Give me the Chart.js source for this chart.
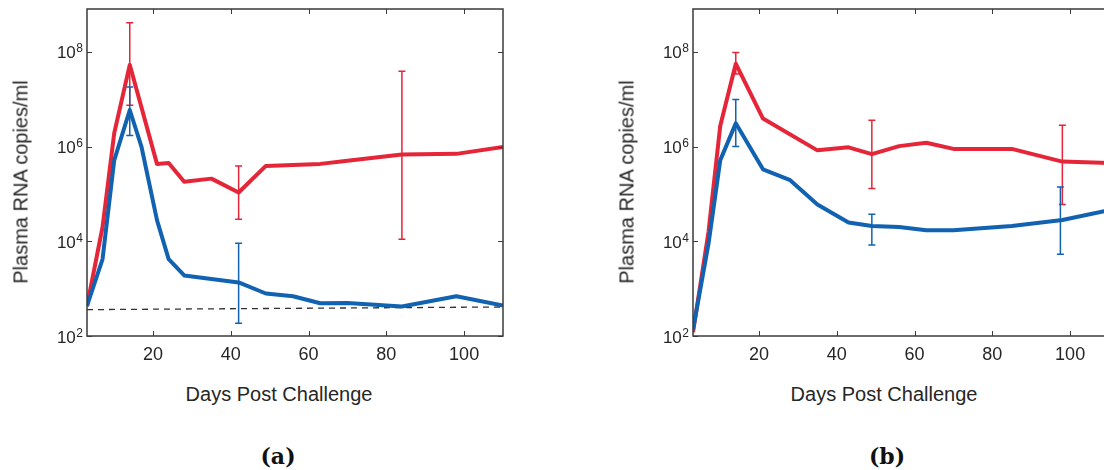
<!DOCTYPE html>
<html>
<head>
<meta charset="utf-8">
<script src="https://cdn.jsdelivr.net/npm/chart.js@4.4.1/dist/chart.umd.min.js"></script>
<style>
  html, body { margin: 0; padding: 0; background: #fff; overflow: hidden; width: 1104px; height: 470px; }
  .panel { position: absolute; top: 0; width: 520px; height: 360px; }
  .lbl { position: absolute; font-family: "Liberation Sans", Arial, sans-serif; font-size: 20px; color: #262626; white-space: nowrap; }
  .ylab { transform: translate(-50%, -50%) rotate(-90deg); }
  .xlab { transform: translate(-50%, -50%); }
  .cap { position: absolute; font-family: "DejaVu Serif", serif; font-weight: bold; font-size: 22px; color: #111; transform: translate(-50%, -50%); }
</style>
</head>
<body>
<div class="panel" style="left:0"><canvas id="chartA" width="520" height="360"></canvas></div>
<div class="panel" style="left:606px"><canvas id="chartB" width="520" height="360"></canvas></div>

<div class="lbl ylab" style="left:21px;top:182px">Plasma RNA copies/ml</div>
<div class="lbl xlab" style="left:279px;top:394px">Days Post Challenge</div>
<div class="cap" style="left:278px;top:456px">(a)</div>

<div class="lbl ylab" style="left:627px;top:182px">Plasma RNA copies/ml</div>
<div class="lbl xlab" style="left:884px;top:394px">Days Post Challenge</div>
<div class="cap" style="left:887px;top:456px">(b)</div>

<script>
// axis ticks
const xTicks = [20, 40, 60, 80, 100];
const yTicks = [1e2, 1e4, 1e6, 1e8];

// panel (a)
const redDaysA = [3, 7, 10, 14, 21, 24, 28, 35, 42, 49, 63, 70, 84, 98, 110];
const redA = [430, 2.0e4, 1.9e6, 5.3e7, 4.3e5, 4.5e5, 1.8e5, 2.1e5, 1.07e5, 3.9e5, 4.3e5, 5.0e5, 6.8e5, 7.0e5, 9.8e5];
const blueDaysA = [3, 7, 10, 14, 17, 21, 24, 28, 35, 42, 49, 56, 63, 70, 84, 98, 110];
const blueA = [430, 4.2e3, 5.1e5, 5.9e6, 1.0e6, 2.8e4, 4.2e3, 1.9e3, 1.6e3, 1.35e3, 790, 690, 490, 500, 420, 690, 440];
const limitDaysA = [3, 110];
const limitA = [360, 410];
const redErrDaysA = [14, 42, 84];
const redErrLoA = [7.4e6, 2.9e4, 1.1e4];
const redErrHiA = [4.1e8, 3.9e5, 3.9e7];
const blueErrDaysA = [14, 42];
const blueErrLoA = [1.7e6, 185];
const blueErrHiA = [1.8e7, 9.1e3];

// panel (b)
const redDaysB = [3, 7, 10, 14, 21, 35, 43, 49, 56, 63, 70, 85, 98, 110];
const redB = [120, 1.6e4, 2.7e6, 5.6e7, 3.9e6, 8.3e5, 9.6e5, 6.9e5, 1.02e6, 1.2e6, 8.9e5, 8.9e5, 4.8e5, 4.5e5];
const blueDaysB = [3, 7, 10, 14, 21, 28, 35, 43, 49, 56, 63, 70, 85, 98, 110];
const blueB = [135, 9.0e3, 5.1e5, 3.1e6, 3.3e5, 1.95e5, 6.0e4, 2.5e4, 2.1e4, 2.0e4, 1.7e4, 1.7e4, 2.1e4, 2.8e4, 4.5e4];
const redErrDaysB = [14, 49, 98];
const redErrLoB = [3.4e7, 1.3e5, 6.0e4];
const redErrHiB = [9.6e7, 3.6e6, 2.8e6];
const blueErrDaysB = [14, 49, 97.5];
const blueErrLoB = [1.0e6, 8.3e3, 5.3e3];
const blueErrHiB = [9.8e6, 3.7e4, 1.4e5];

const RED = 'rgb(228,38,56)';
const BLUE = 'rgb(18,98,178)';
const AXIS = '#3a3a3a';
const FONT = '"Liberation Sans", Arial, sans-serif';

const pts = (xs, ys) => xs.map((d, i) => ({ x: d, y: ys[i] }));

function overlay(errs) {
  return {
    id: 'overlay',
    afterDatasetsDraw(chart) {
      const { ctx, chartArea: a, scales: { x, y } } = chart;
      ctx.save();
      // error bars
      errs.forEach(e => {
        ctx.strokeStyle = e.color;
        ctx.lineWidth = 1.5;
        e.days.forEach((d, i) => {
          const px = x.getPixelForValue(d);
          const top = y.getPixelForValue(e.hi[i]);
          const bot = y.getPixelForValue(e.lo[i]);
          ctx.beginPath();
          ctx.moveTo(px, top); ctx.lineTo(px, bot);
          ctx.moveTo(px - 3.5, top); ctx.lineTo(px + 3.5, top);
          ctx.moveTo(px - 3.5, bot); ctx.lineTo(px + 3.5, bot);
          ctx.stroke();
        });
      });
      // box and inward ticks
      ctx.strokeStyle = AXIS;
      ctx.lineWidth = 1.5;
      ctx.strokeRect(a.left, a.top, a.right - a.left, a.bottom - a.top);
      ctx.beginPath();
      xTicks.forEach(v => {
        const px = Math.round(x.getPixelForValue(v)) + 0.5;
        ctx.moveTo(px, a.bottom); ctx.lineTo(px, a.bottom - 5);
        ctx.moveTo(px, a.top); ctx.lineTo(px, a.top + 5);
      });
      yTicks.forEach(v => {
        const py = Math.round(y.getPixelForValue(v)) + 0.5;
        ctx.moveTo(a.left, py); ctx.lineTo(a.left + 5, py);
        ctx.moveTo(a.right, py); ctx.lineTo(a.right - 5, py);
      });
      ctx.lineWidth = 1;
      ctx.stroke();
      // y tick labels as 10^n
      ctx.fillStyle = '#262626';
      ctx.textAlign = 'right';
      ctx.textBaseline = 'alphabetic';
      yTicks.forEach(v => {
        const py = y.getPixelForValue(v);
        const exp = String(Math.round(Math.log10(v)));
        ctx.font = '12px ' + FONT;
        const ew = ctx.measureText(exp).width;
        const ex = a.left - 4;
        ctx.fillText(exp, ex, py + 0.5);
        ctx.font = '17px ' + FONT;
        ctx.fillText('10', ex - ew - 0.5, py + 6.5);
      });
      ctx.restore();
    }
  };
}

function makeChart(id, red, blue, limit, errs) {
  const datasets = [
    { data: blue, borderColor: BLUE, borderWidth: 4 },
    { data: red, borderColor: RED, borderWidth: 4 }
  ];
  if (limit) {
    datasets.push({ data: limit, borderColor: '#333', borderWidth: 1.3, borderDash: [6, 5] });
  }
  datasets.forEach(d => { d.pointRadius = 0; d.tension = 0; d.fill = false; d.borderJoinStyle = 'round'; });

  return new Chart(document.getElementById(id), {
    type: 'line',
    data: { datasets },
    options: {
      responsive: false,
      animation: false,
      layout: { padding: { top: 9, right: 17, left: 0, bottom: 0 } },
      plugins: { legend: { display: false }, tooltip: { enabled: false } },
      scales: {
        x: {
          type: 'linear', min: 3, max: 110,
          grid: { display: false }, border: { display: false },
          afterBuildTicks: s => { s.ticks = xTicks.map(v => ({ value: v })); },
          afterFit: s => { s.height = 24; },
          ticks: { padding: 0, maxRotation: 0, color: '#262626', font: { family: FONT, size: 18 } }
        },
        y: {
          type: 'logarithmic', min: 100, max: 8e8,
          grid: { display: false }, border: { display: false },
          afterBuildTicks: s => { s.ticks = yTicks.map(v => ({ value: v })); },
          afterFit: s => { s.width = 87; },
          ticks: { display: false }
        }
      }
    },
    plugins: [overlay(errs)]
  });
}

makeChart('chartA', pts(redDaysA, redA), pts(blueDaysA, blueA), pts(limitDaysA, limitA), [
  { color: RED, days: redErrDaysA, lo: redErrLoA, hi: redErrHiA },
  { color: BLUE, days: blueErrDaysA, lo: blueErrLoA, hi: blueErrHiA }
]);
makeChart('chartB', pts(redDaysB, redB), pts(blueDaysB, blueB), null, [
  { color: RED, days: redErrDaysB, lo: redErrLoB, hi: redErrHiB },
  { color: BLUE, days: blueErrDaysB, lo: blueErrLoB, hi: blueErrHiB }
]);
</script>
</body>
</html>
